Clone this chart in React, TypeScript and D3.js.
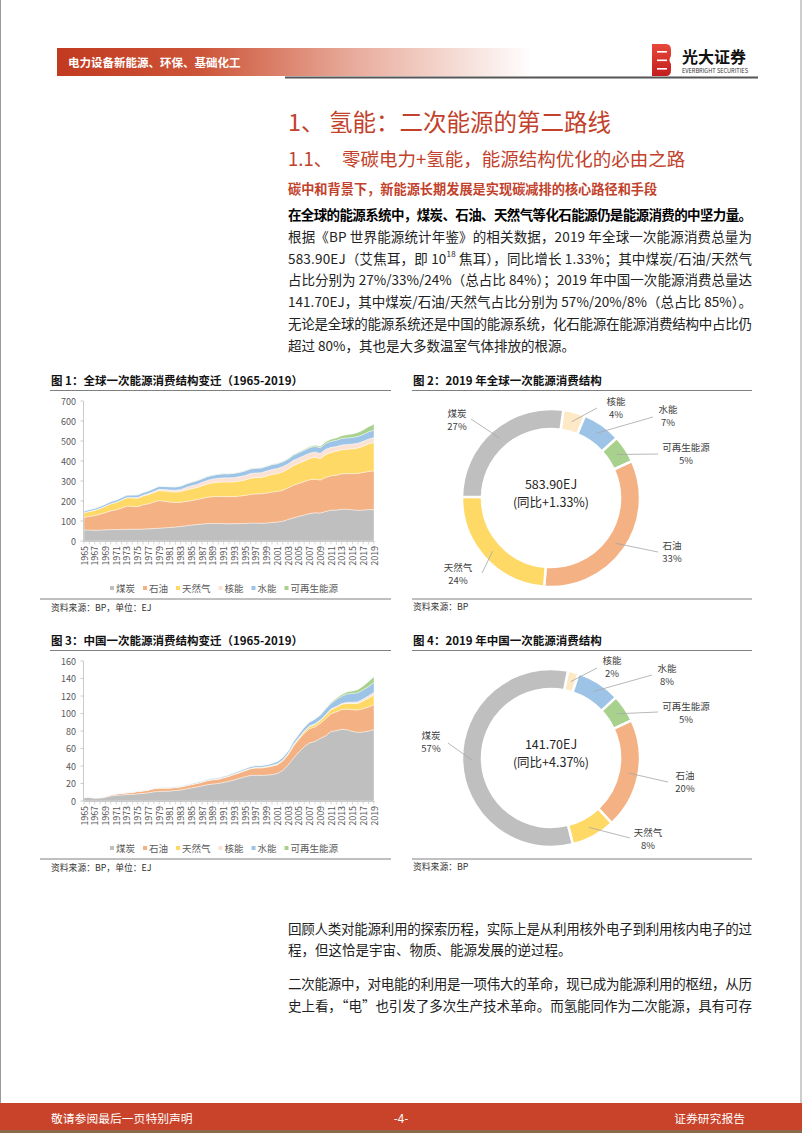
import React from 'react';
import * as d3 from 'd3';

const FONT = '"Noto Sans CJK SC", "Noto Sans", sans-serif';
const RED = '#c2412b';

// ---------- data ----------
const years = d3.range(1965, 2020);
const seriesNames = ['煤炭', '石油', '天然气', '核能', '水能', '可再生能源'];
const seriesKeys = ['coal', 'oil', 'gas', 'nuclear', 'hydro', 'renew'];
const areaColors = ['#bfbfbf', '#f4b183', '#ffd966', '#fbe2d5', '#9dc3e6', '#a9d18e'];
const donutColors = ['#bfbfbf', '#f4b183', '#ffd966', '#fde9c6', '#9dc3e6', '#a9d18e'];

// Global primary energy consumption by source (EJ), 1965-2019
const globalCoal = [55, 55, 54, 55, 56, 57, 57, 58, 59, 59, 59, 60, 61, 62, 64, 66, 68, 70, 73, 76, 80, 82, 85, 87, 88, 88, 87, 86, 87, 87, 88, 90, 90, 89, 90, 93, 95, 99, 108, 116, 123, 130, 137, 141, 140, 148, 154, 155, 159, 159, 156, 154, 155, 157, 157];
const globalOil = [63, 68, 73, 79, 86, 94, 99, 107, 116, 114, 113, 121, 125, 133, 138, 133, 127, 123, 121, 122, 122, 125, 128, 132, 134, 135, 135, 136, 135, 138, 140, 143, 146, 147, 150, 152, 153, 155, 158, 163, 165, 167, 169, 168, 165, 170, 172, 174, 177, 178, 181, 184, 188, 191, 194];
const globalGas = [23, 25, 27, 29, 32, 35, 37, 39, 41, 42, 42, 44, 46, 47, 50, 51, 52, 52, 53, 57, 59, 60, 63, 66, 69, 71, 73, 73, 74, 75, 77, 81, 81, 82, 85, 88, 89, 92, 94, 98, 101, 103, 107, 110, 107, 114, 117, 120, 121, 122, 124, 127, 131, 138, 141];
const globalNuclear = [0.2, 0.3, 0.4, 0.5, 0.6, 0.8, 1.1, 1.6, 2.1, 2.7, 3.7, 4.3, 5.2, 6.1, 6.4, 7.2, 8.5, 9.3, 10.6, 12.7, 14.9, 16.1, 17.4, 18.6, 19.1, 19.9, 20.7, 20.9, 21.6, 22.0, 22.8, 23.5, 23.4, 23.8, 24.5, 24.9, 25.5, 25.9, 25.6, 26.5, 26.6, 26.9, 26.2, 26.0, 25.7, 26.3, 25.2, 23.3, 23.4, 23.7, 23.8, 24.0, 24.2, 24.6, 24.9];
const globalHydro = [8.5, 8.9, 9.2, 9.6, 10.0, 10.5, 10.9, 11.3, 11.5, 12.3, 12.8, 12.9, 13.3, 14.2, 14.8, 15.3, 15.6, 16.0, 16.7, 17.2, 17.6, 17.9, 18.0, 18.6, 18.5, 19.5, 20.0, 19.9, 21.0, 21.2, 22.3, 22.5, 22.9, 23.0, 23.3, 24.0, 23.6, 23.8, 23.8, 25.2, 26.0, 26.8, 27.2, 28.5, 28.6, 30.0, 30.4, 31.5, 32.5, 32.9, 33.0, 34.4, 34.6, 35.6, 37.7];
const globalRenew = [0.2, 0.2, 0.2, 0.2, 0.2, 0.2, 0.3, 0.3, 0.3, 0.3, 0.3, 0.4, 0.4, 0.4, 0.4, 0.5, 0.5, 0.6, 0.7, 0.8, 0.9, 1.0, 1.0, 1.1, 1.3, 1.4, 1.5, 1.5, 1.6, 1.7, 1.8, 1.9, 2.0, 2.0, 2.1, 2.3, 2.4, 2.7, 2.9, 3.3, 3.6, 4.1, 4.8, 5.8, 6.8, 8.2, 9.9, 11.6, 13.5, 15.3, 17.3, 19.4, 22.4, 25.6, 29.0];

// China primary energy consumption by source (EJ), 1965-2019
const chinaCoal = [3.8, 4.0, 3.2, 3.3, 4.3, 5.8, 6.6, 7.0, 7.3, 7.5, 8.3, 8.6, 9.4, 10.5, 11.0, 11.2, 11.3, 12.0, 12.6, 13.8, 15.0, 16.0, 17.3, 18.7, 19.5, 20.0, 21.3, 22.5, 24.2, 26.0, 27.8, 29.3, 29.5, 29.3, 29.6, 30.2, 31.5, 35.0, 41.0, 49.0, 56.0, 62.0, 66.5, 68.0, 71.5, 74.5, 79.5, 80.5, 82.0, 81.5, 79.5, 78.5, 79.0, 80.0, 81.7];
const chinaOil = [0.5, 0.6, 0.6, 0.7, 0.8, 1.2, 1.5, 1.7, 2.0, 2.2, 2.6, 2.8, 3.0, 3.4, 3.5, 3.5, 3.3, 3.3, 3.4, 3.5, 3.7, 3.9, 4.2, 4.5, 4.8, 4.8, 5.2, 5.6, 6.2, 6.3, 6.8, 7.4, 8.2, 8.4, 8.9, 9.6, 9.8, 10.6, 11.7, 13.6, 14.3, 15.4, 16.2, 16.6, 17.1, 19.5, 20.3, 21.4, 22.5, 23.4, 24.9, 25.4, 26.6, 27.5, 28.3];
const chinaGas = [0.04, 0.05, 0.06, 0.06, 0.08, 0.11, 0.14, 0.18, 0.22, 0.27, 0.33, 0.38, 0.45, 0.51, 0.54, 0.53, 0.47, 0.44, 0.44, 0.46, 0.48, 0.51, 0.52, 0.54, 0.56, 0.57, 0.59, 0.59, 0.63, 0.65, 0.68, 0.71, 0.73, 0.75, 0.82, 0.92, 1.03, 1.12, 1.30, 1.55, 1.74, 2.09, 2.56, 2.94, 3.23, 3.98, 4.81, 5.32, 6.03, 6.67, 6.97, 7.56, 8.71, 10.09, 11.06];
const chinaNuclear = [0, 0, 0, 0, 0, 0, 0, 0, 0, 0, 0, 0, 0, 0, 0, 0, 0, 0, 0, 0, 0, 0, 0, 0, 0, 0, 0, 0, 0.02, 0.13, 0.13, 0.14, 0.14, 0.14, 0.15, 0.16, 0.17, 0.25, 0.42, 0.48, 0.50, 0.52, 0.59, 0.64, 0.66, 0.70, 0.82, 0.90, 1.00, 1.19, 1.57, 1.98, 2.27, 2.62, 3.11];
const chinaHydro = [0.2, 0.2, 0.2, 0.2, 0.2, 0.3, 0.3, 0.3, 0.4, 0.4, 0.5, 0.5, 0.5, 0.5, 0.6, 0.6, 0.7, 0.7, 0.8, 0.8, 0.9, 0.9, 0.9, 1.0, 1.1, 1.2, 1.2, 1.3, 1.5, 1.6, 1.7, 1.8, 1.9, 2.0, 2.0, 2.2, 2.7, 2.8, 2.8, 3.4, 3.8, 4.2, 4.4, 5.4, 5.5, 6.4, 6.2, 7.9, 8.3, 9.6, 10.0, 10.4, 10.5, 10.7, 11.3];
const chinaRenew = [0, 0, 0, 0, 0, 0, 0, 0, 0, 0, 0, 0, 0, 0, 0, 0, 0, 0, 0, 0, 0, 0, 0, 0, 0, 0.01, 0.01, 0.01, 0.01, 0.01, 0.01, 0.01, 0.01, 0.02, 0.02, 0.03, 0.03, 0.04, 0.05, 0.05, 0.07, 0.10, 0.15, 0.26, 0.51, 0.71, 1.00, 1.36, 1.82, 2.25, 2.70, 3.37, 4.44, 5.53, 6.63];

const globalTicks = [0, 100, 200, 300, 400, 500, 600, 700];
const chinaTicks = [0, 20, 40, 60, 80, 100, 120, 140, 160];
const yearLabels = years.filter((y) => (y - 1965) % 2 === 0);

// 2019 shares (%), in the order of seriesNames
const globalShare = [27, 33, 24, 4, 7, 5];
const chinaShare = [57, 20, 8, 2, 8, 5];
// clockwise order from top: 核能, 水能, 可再生能源, 石油, 天然气, 煤炭
const donutOrder = [3, 4, 5, 1, 2, 0];

const bodyLines = [
  '在全球的能源系统中，煤炭、石油、天然气等化石能源仍是能源消费的中坚力量。',
  '根据《BP 世界能源统计年鉴》的相关数据，2019 年全球一次能源消费总量为',
  '',
  '占比分别为 27%/33%/24%（总占比 84%）；2019 年中国一次能源消费总量达',
  '141.70EJ，其中煤炭/石油/天然气占比分别为 57%/20%/8%（总占比 85%）。',
  '无论是全球的能源系统还是中国的能源系统，化石能源在能源消费结构中占比仍',
  '超过 80%，其也是大多数温室气体排放的根源。',
];

// ---------- components ----------
function AreaChart({ series, ticks, yMax, top, title }: any) {
  const yTop = top + 21;
  const yBot = top + 161;
  const x = d3.scalePoint<number>().domain(years).range([84, 374]);
  const y = d3.scaleLinear().domain([0, yMax]).range([yBot, yTop]);
  const rows = years.map((yr, i) => {
    const o: any = { year: yr };
    seriesKeys.forEach((k, j) => (o[k] = series[j][i]));
    return o;
  });
  const stacked = d3.stack<any>().keys(seriesKeys)(rows);
  const area = d3
    .area<any>()
    .x((d) => x(d.data.year) as number)
    .y0((d) => y(d[0]))
    .y1((d) => y(d[1]));

  // legend layout
  const fs = 9.5;
  let lx = 112;
  const legend = seriesNames.map((n, i) => {
    const item = { x: lx, name: n, color: areaColors[i] };
    lx += 5 + n.length * fs + 9;
    return item;
  });

  return (
    <g>
      <text x={51} y={top} dominantBaseline="central" fontSize={11.5} fontWeight={700} fill="#111">
        {title}
      </text>
      <line x1={50} x2={391} y1={top + 10.5} y2={top + 10.5} stroke="#808080" strokeWidth={1} />
      {stacked.map((s, i) => (
        <path key={i} d={area(s) as string} fill={areaColors[i]} stroke="#fff" strokeWidth={0.4} />
      ))}
      <line x1={83.5} x2={83.5} y1={yTop} y2={yBot} stroke="#bfbfbf" strokeWidth={0.8} />
      <line x1={83.5} x2={374.5} y1={yBot + 0.5} y2={yBot + 0.5} stroke="#bfbfbf" strokeWidth={0.8} />
      {ticks.map((t: number) => (
        <g key={t}>
          <line x1={80.5} x2={83.5} y1={y(t)} y2={y(t)} stroke="#bfbfbf" strokeWidth={0.8} />
          <text x={76} y={y(t)} textAnchor="end" dominantBaseline="central" fontSize={9} fill="#595959">
            {t}
          </text>
        </g>
      ))}
      {years.map((yr) => (
        <line key={yr} x1={x(yr)} x2={x(yr)} y1={yBot + 0.5} y2={yBot + 3.5} stroke="#bfbfbf" strokeWidth={0.6} />
      ))}
      {yearLabels.map((yr) => (
        <text
          key={yr}
          transform={`translate(${x(yr)},${yBot + 5}) rotate(-90)`}
          textAnchor="end"
          dominantBaseline="central"
          fontSize={8.8}
          fill="#595959"
        >
          {yr}
        </text>
      ))}
      {legend.map((l, i) => (
        <g key={i}>
          <rect x={l.x - 2} y={top + 206} width={4} height={4} fill={l.color} />
          <text x={l.x + 4} y={top + 208} dominantBaseline="central" fontSize={fs} fill="#595959">
            {l.name}
          </text>
        </g>
      ))}
      <line x1={40} x2={391} y1={top + 219} y2={top + 219} stroke="#808080" strokeWidth={1} />
      <text x={51} y={top + 227} dominantBaseline="central" fontSize={8.8} fill="#333">
        资料来源：BP，单位：EJ
      </text>
    </g>
  );
}

function Donut({ shares, cx, cy, a0, top, title, total, yoy, labels }: any) {
  const data = donutOrder.map((i) => ({ idx: i, v: shares[i] }));
  const start = (a0 * Math.PI) / 180;
  const pie = d3
    .pie<any>()
    .sort(null)
    .value((d) => d.v)
    .startAngle(start)
    .endAngle(start + 2 * Math.PI);
  const arcs = pie(data);
  const arc = d3.arc<any>().innerRadius(69).outerRadius(89);
  return (
    <g>
      <text x={413} y={top} dominantBaseline="central" fontSize={11.5} fontWeight={700} fill="#111">
        {title}
      </text>
      <line x1={412} x2={752} y1={top + 10.5} y2={top + 10.5} stroke="#808080" strokeWidth={1} />
      <g transform={`translate(${cx},${cy})`}>
        {arcs.map((a, i) => (
          <path key={i} d={arc(a) as string} fill={donutColors[a.data.idx]} stroke="#fff" strokeWidth={2.5} />
        ))}
        {arcs.map((a, i) => {
          const c = arc.centroid(a);
          const L = labels[a.data.idx];
          return (
            <line key={'l' + i} x1={c[0]} y1={c[1]} x2={L.lx - cx} y2={L.ly - cy} stroke="#a6a6a6" strokeWidth={0.8} />
          );
        })}
      </g>
      {arcs.map((a, i) => {
        const L = labels[a.data.idx];
        return (
          <g key={'t' + i} fontSize={9.5} fill="#404040" textAnchor="middle">
            <text x={L.tx} y={L.ty} dominantBaseline="central">
              {seriesNames[a.data.idx]}
            </text>
            <text x={L.tx} y={L.ty + 13} dominantBaseline="central">
              {shares[a.data.idx]}%
            </text>
          </g>
        );
      })}
      <text x={cx} y={cy - 15} textAnchor="middle" dominantBaseline="central" fontSize={12.5} fill="#262626">
        {total}
      </text>
      <text x={cx} y={cy + 3} textAnchor="middle" dominantBaseline="central" fontSize={12.5} fill="#262626">
        {yoy}
      </text>
      <line x1={412} x2={752} y1={top + 219} y2={top + 219} stroke="#808080" strokeWidth={1} />
      <text x={413} y={top + 226} dominantBaseline="central" fontSize={8.8} fill="#333">
        资料来源：BP
      </text>
    </g>
  );
}

// label layout (positions of label text / leader end), indexed like seriesNames
const globalLabels = [
  { tx: 457, ty: 413, lx: 471, ly: 419 },
  { tx: 672, ty: 545, lx: 658, ly: 552 },
  { tx: 458, ty: 567, lx: 482, ly: 573 },
  { tx: 616, ty: 401, lx: 597, ly: 408 },
  { tx: 668, ty: 409, lx: 653, ly: 417 },
  { tx: 686, ty: 447, lx: 658, ly: 454 },
];
const chinaLabels = [
  { tx: 431, ty: 735, lx: 448, ly: 743 },
  { tx: 685, ty: 775, lx: 668, ly: 782 },
  { tx: 648, ty: 832, lx: 630, ly: 838 },
  { tx: 612, ty: 660, lx: 597, ly: 668 },
  { tx: 667, ty: 668, lx: 652, ly: 675 },
  { tx: 686, ty: 706, lx: 658, ly: 712 },
];

export default function App() {
  const bx = 288;
  const bw = 464;
  const lh = 21.8;
  const b0 = 214;
  return (
    <div style={{ position: 'absolute', left: 0, top: 0 }}>
      <svg width={802} height={1133} style={{ display: 'block', fontFamily: FONT }}>
        <defs>
          <linearGradient id="hdr" x1="0" x2="1" y1="0" y2="0">
            <stop offset="0" stopColor="#c23a20" />
            <stop offset="0.3" stopColor="#cc5438" />
            <stop offset="0.62" stopColor="#e8aa9a" />
            <stop offset="1" stopColor="#ffffff" />
          </linearGradient>
          <linearGradient id="logo" x1="0" x2="0" y1="0" y2="1">
            <stop offset="0" stopColor="#e8483a" />
            <stop offset="1" stopColor="#c21e1e" />
          </linearGradient>
        </defs>
        <rect width={802} height={1133} fill="#fff" />
        <line x1={0.5} x2={0.5} y1={0} y2={1103} stroke="#9a9a9a" />
        <line x1={801} x2={801} y1={0} y2={1103} stroke="#9a9a9a" />

        {/* header */}
        <rect x={57} y={48} width={475} height={28} fill="url(#hdr)" />
        <text x={68} y={62} dominantBaseline="central" fontSize={11.5} fontWeight={700} fill="#fff">
          电力设备新能源、环保、基础化工
        </text>
        <line x1={285} x2={758} y1={77.5} y2={77.5} stroke="#555" strokeWidth={2} />
        <g>
          <path d="M652,44 H666 Q671,44 671,50 V56 Q668,60 671,64 V70 Q671,76 666,76 H652 Z" fill="url(#logo)" />
          <rect x={657} y={51} width={10} height={1.6} fill="#fff" />
          <rect x={657} y={59.5} width={10} height={1.6} fill="#fff" />
          <rect x={657} y={68} width={10} height={1.6} fill="#fff" />
          <text x={682} y={56} dominantBaseline="central" fontSize={16} fontWeight={700} fill="#111">
            光大证券
          </text>
          <text x={682} y={70.5} dominantBaseline="central" fontSize={5.5} fill="#333" textLength={66} lengthAdjust="spacingAndGlyphs">
            EVERBRIGHT SECURITIES
          </text>
        </g>

        {/* headings */}
        <text x={bx} y={121} dominantBaseline="central" fontSize={23.5} fill={RED}>
          1、
        </text>
        <text x={329} y={121} dominantBaseline="central" fontSize={23.5} fill={RED}>
          氢能：二次能源的第二路线
        </text>
        <text x={bx} y={158} dominantBaseline="central" fontSize={18.5} fill={RED}>
          1.1、
        </text>
        <text x={342} y={158} dominantBaseline="central" fontSize={18.5} fill={RED}>
          零碳电力+氢能，能源结构优化的必由之路
        </text>
        <text x={bx} y={188} dominantBaseline="central" fontSize={13.2} fontWeight={700} fill={RED}>
          碳中和背景下，新能源长期发展是实现碳减排的核心路径和手段
        </text>

        {/* body paragraph */}
        <g fontSize={13.5} fill="#222">
          {bodyLines.map((t, i) =>
            i === 2 ? (
              <text key={i} x={bx} y={b0 + i * lh} dominantBaseline="central" textLength={bw} lengthAdjust="spacing">
                583.90EJ（艾焦耳，即 10
                <tspan fontSize={8} dy={-5}>18</tspan>
                <tspan dy={5}> 焦耳），同比增长 1.33%；其中煤炭/石油/天然气</tspan>
              </text>
            ) : (
              <text
                key={i}
                x={bx}
                y={b0 + i * lh}
                dominantBaseline="central"
                fontWeight={i === 0 ? 700 : 400}
                fill={i === 0 ? '#000' : '#222'}
                textLength={i === 6 ? undefined : bw}
                lengthAdjust="spacing"
              >
                {t}
              </text>
            )
          )}
        </g>

        {/* charts */}
        <AreaChart
          series={[globalCoal, globalOil, globalGas, globalNuclear, globalHydro, globalRenew]}
          ticks={globalTicks}
          yMax={700}
          top={380}
          title="图 1：全球一次能源消费结构变迁（1965-2019）"
        />
        <Donut
          shares={globalShare}
          cx={551}
          cy={498}
          a0={8}
          top={380}
          title="图 2：2019 年全球一次能源消费结构"
          total="583.90EJ"
          yoy="(同比+1.33%)"
          labels={globalLabels}
        />
        <AreaChart
          series={[chinaCoal, chinaOil, chinaGas, chinaNuclear, chinaHydro, chinaRenew]}
          ticks={chinaTicks}
          yMax={160}
          top={640}
          title="图 3：中国一次能源消费结构变迁（1965-2019）"
        />
        <Donut
          shares={chinaShare}
          cx={551}
          cy={758}
          a0={11}
          top={640}
          title="图 4：2019 年中国一次能源消费结构"
          total="141.70EJ"
          yoy="(同比+4.37%)"
          labels={chinaLabels}
        />

        {/* bottom text */}
        <g fontSize={13.5} fill="#222">
          <text x={bx} y={928} dominantBaseline="central" textLength={bw} lengthAdjust="spacing">
            回顾人类对能源利用的探索历程，实际上是从利用核外电子到利用核内电子的过
          </text>
          <text x={bx} y={949} dominantBaseline="central">
            程，但这恰是宇宙、物质、能源发展的逆过程。
          </text>
          <text x={bx} y={983} dominantBaseline="central" textLength={bw} lengthAdjust="spacing">
            二次能源中，对电能的利用是一项伟大的革命，现已成为能源利用的枢纽，从历
          </text>
          <text x={bx} y={1005} dominantBaseline="central" textLength={bw} lengthAdjust="spacing">
            史上看，“电”也引发了多次生产技术革命。而氢能同作为二次能源，具有可存
          </text>
        </g>

        {/* footer */}
        <rect x={0} y={1103} width={802} height={27} fill="#c8432a" />
        <rect x={0} y={1130} width={802} height={3} fill="#8a6a4a" />
        <text x={51} y={1117} dominantBaseline="central" fontSize={11.8} fill="#fff">
          敬请参阅最后一页特别声明
        </text>
        <text x={401} y={1117} textAnchor="middle" dominantBaseline="central" fontSize={11.8} fill="#fff">
          -4-
        </text>
        <text x={745} y={1117} textAnchor="end" dominantBaseline="central" fontSize={11.8} fill="#fff">
          证券研究报告
        </text>
      </svg>
    </div>
  );
}
